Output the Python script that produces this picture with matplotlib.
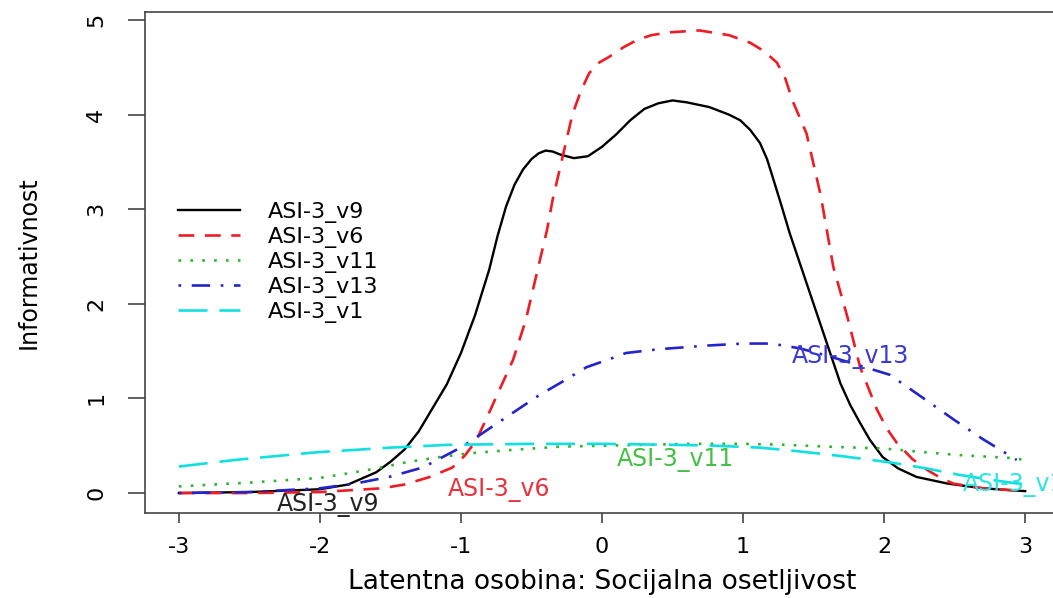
import matplotlib
matplotlib.use("Agg")
import matplotlib.pyplot as plt

plt.rcParams['font.family'] = ['DejaVu Sans']
plt.rcParams['axes.unicode_minus'] = False

# Item information curves (theta, information)
v9_x = [-3.0, -2.5, -2.0, -1.8, -1.6, -1.5, -1.4, -1.3, -1.2, -1.1, -1.0, -0.9, -0.8, -0.74,
        -0.68, -0.62, -0.56, -0.5, -0.45, -0.4, -0.35, -0.3, -0.2, -0.1, 0.0, 0.1, 0.2, 0.3, 0.4,
        0.5, 0.6, 0.76, 0.9, 0.98, 1.05, 1.12, 1.17, 1.21, 1.27, 1.33, 1.45, 1.57, 1.69, 1.76,
        1.83, 1.9, 1.99, 2.1, 2.23, 2.45, 2.7, 3.0]
v9_y = [0.00, 0.01, 0.04, 0.09, 0.22, 0.33, 0.46, 0.65, 0.90, 1.15, 1.48, 1.88, 2.36, 2.72,
        3.03, 3.26, 3.42, 3.53, 3.59, 3.62, 3.61, 3.58, 3.54, 3.56, 3.66, 3.79, 3.94, 4.06, 4.12,
        4.15, 4.13, 4.08, 4.00, 3.94, 3.84, 3.70, 3.53, 3.34, 3.05, 2.75, 2.22, 1.69, 1.16, 0.93,
        0.74, 0.56, 0.38, 0.26, 0.17, 0.10, 0.05, 0.02]

v6_x = [-3.0, -2.5, -2.0, -1.56, -1.4, -1.22, -1.06, -0.97, -0.89, -0.8, -0.63, -0.54, -0.45,
        -0.39, -0.35, -0.28, -0.21, -0.15, -0.09, -0.02, 0.05, 0.15, 0.25, 0.35, 0.48, 0.69, 0.9,
        1.05, 1.15, 1.24, 1.3, 1.35, 1.45, 1.55, 1.64, 1.74, 1.83, 1.95, 2.02, 2.09, 2.2, 2.31,
        2.4, 2.49, 2.7, 3.0]
v6_y = [0.00, 0.00, 0.01, 0.05, 0.09, 0.17, 0.27, 0.40, 0.56, 0.85, 1.41, 1.83, 2.40,
        2.78, 3.10, 3.55, 4.00, 4.25, 4.44, 4.55, 4.61, 4.71, 4.79, 4.84, 4.87, 4.89, 4.84,
        4.76, 4.67, 4.55, 4.38, 4.15, 3.80, 3.15, 2.39, 1.86, 1.33, 0.88, 0.68, 0.53, 0.36, 0.24,
        0.16, 0.10, 0.05, 0.02]

v11_x = [-3.0, -2.5, -2.0, -1.79, -1.6, -1.37, -1.15, -0.94, -0.6, -0.3, 0.0, 0.3, 0.64, 1.0,
         1.3, 1.6, 2.0, 2.3, 2.54, 2.9, 3.0]
v11_y = [0.07, 0.11, 0.16, 0.21, 0.26, 0.33, 0.38, 0.42, 0.46, 0.49, 0.50, 0.51, 0.52, 0.52,
         0.51, 0.49, 0.47, 0.43, 0.40, 0.37, 0.35]

v13_x = [-3.0, -2.5, -2.0, -1.75, -1.51, -1.27, -0.99, -0.8, -0.63, -0.45, -0.3, -0.11, 0.08,
         0.17, 0.4, 0.76, 1.0, 1.2, 1.4, 1.6, 1.8, 2.04, 2.3, 2.5, 2.7, 2.94]
v13_y = [0.00, 0.01, 0.05, 0.10, 0.17, 0.27, 0.49, 0.68, 0.85, 1.03, 1.16, 1.33, 1.43,
         1.48, 1.52, 1.56, 1.58, 1.58, 1.53, 1.45, 1.36, 1.25, 0.98, 0.77, 0.57, 0.35]

v1_x = [-3.0, -2.6, -2.03, -1.5, -1.08, -0.5, 0.0, 0.5, 0.8, 1.12, 1.4, 1.7, 2.06, 2.3, 2.54,
        2.8, 3.0]
v1_y = [0.28, 0.35, 0.43, 0.48, 0.51, 0.52, 0.52, 0.51, 0.50, 0.48, 0.44, 0.39, 0.32, 0.26,
        0.19, 0.13, 0.09]

names = ['ASI-3_v9', 'ASI-3_v6', 'ASI-3_v11', 'ASI-3_v13', 'ASI-3_v1']
line_colors = ['black', '#ee1c24', '#2db52d', '#2424cc', '#10e0e0']
text_colors = ['#222222', '#e8333c', '#44c044', '#3a3ad2', '#2ee4e4']

# where each item name is written next to its curve
label_x = [-1.94, -0.73, 0.52, 1.76, 2.92]
label_y = [-0.13, 0.03, 0.35, 1.44, 0.08]

fig = plt.figure(figsize=(10.53, 5.98), dpi=100)
ax = fig.add_axes([0.1377, 0.1421, 0.868, 0.8378])

ax.plot(v9_x, v9_y, color=line_colors[0], lw=1.7, label=names[0])
ax.plot(v6_x, v6_y, color=line_colors[1], lw=1.9, dashes=(6, 4), label=names[1])
ax.plot(v11_x, v11_y, color=line_colors[2], lw=1.9, dashes=(1, 3.5), label=names[2])
ax.plot(v13_x, v13_y, color=line_colors[3], lw=1.9, dashes=(1, 4, 7, 4), label=names[3])
ax.plot(v1_x, v1_y, color=line_colors[4], lw=1.9, dashes=(11, 4.5), label=names[4])

for name, x, y, c in zip(names, label_x, label_y, text_colors):
    ax.text(x, y, name, color=c, fontsize=17, ha='center', va='center')

ax.set_xlim(-3.24, 3.24)
ax.set_ylim(-0.2114, 5.0846)
ax.set_xticks(range(-3, 4))
ax.set_yticks(range(0, 6))
ax.set_yticklabels([str(v) for v in range(0, 6)], rotation=90, va='center')

ax.tick_params(axis='x', length=7, width=1.2, pad=10, labelsize=16, color='#444444')
ax.tick_params(axis='y', length=12, width=1.2, pad=16, labelsize=16, color='#444444')
for s in ax.spines.values():
    s.set_color('#444444')
    s.set_linewidth(1.2)

ax.set_xlabel('Latentna osobina: Socijalna osetljivost', fontsize=19, labelpad=9)
ax.set_ylabel('Informativnost', fontsize=17, labelpad=33)

ax.legend(loc='upper left', bbox_to_anchor=(178 / 1053, 1 - 202 / 598),
          bbox_transform=fig.transFigure, frameon=False, fontsize=16,
          handlelength=2.8, handletextpad=1.25, labelspacing=0.18,
          borderpad=0, borderaxespad=0)

fig.savefig('out.png', dpi=100)
